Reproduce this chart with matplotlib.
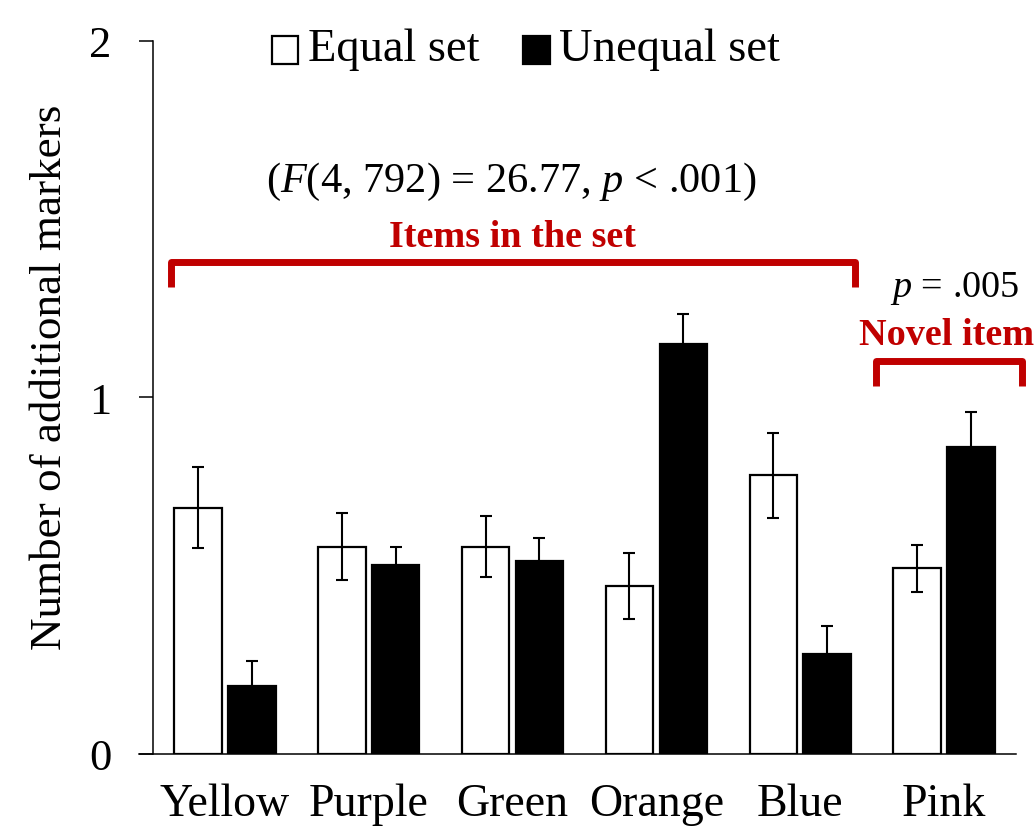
import numpy as np
import matplotlib
matplotlib.use("Agg")
from matplotlib import pyplot as plt
from matplotlib.patches import Rectangle
from matplotlib.legend_handler import HandlerPatch

plt.rcParams['font.family'] = ['Liberation Serif', 'DejaVu Serif']
plt.rcParams['mathtext.fontset'] = 'custom'
plt.rcParams['mathtext.rm'] = 'Liberation Serif'
plt.rcParams['mathtext.it'] = 'Liberation Serif:italic'

# Data
categories = ['Yellow', 'Purple', 'Green', 'Orange', 'Blue', 'Pink']
equal_mean = [0.69, 0.58, 0.58, 0.47, 0.78, 0.52]
equal_err = [0.113, 0.094, 0.085, 0.092, 0.118, 0.066]
unequal_mean = [0.19, 0.53, 0.54, 1.15, 0.28, 0.86]
unequal_err = [0.070, 0.050, 0.064, 0.084, 0.077, 0.099]
y_ticks = [0, 1, 2]

RED = '#C00000'

fig = plt.figure(figsize=(10.34, 8.28), dpi=100)
ax = fig.add_axes([139 / 1034, 1 - 754.5 / 828, (1016 - 139) / 1034, (754.5 - 41.6) / 828])

x = np.arange(len(categories))
w = 0.33
off = 0.187

bars_eq = ax.bar(x - off, equal_mean, w, color='white', edgecolor='black',
                 linewidth=1.6, zorder=2)
bars_un = ax.bar(x + off, unequal_mean, w, color='black', edgecolor='black',
                 linewidth=1.6, zorder=2)
ax.errorbar(x - off, equal_mean, yerr=equal_err, fmt='none', ecolor='black',
            elinewidth=1.5, capsize=4.5, capthick=1.5, zorder=3)
ax.errorbar(x + off, unequal_mean, yerr=unequal_err, fmt='none', ecolor='black',
            elinewidth=1.5, capsize=4.5, capthick=1.5, zorder=3)

# axes styling
ax.set_xlim(-0.597, 5.5)
ax.set_ylim(0, 2)
ax.spines['top'].set_visible(False)
ax.spines['right'].set_visible(False)
ax.spines['left'].set_position(('data', -0.5))
ax.spines['left'].set_linewidth(1.1)
ax.spines['bottom'].set_linewidth(1.1)
ax.set_yticks(y_ticks)
ax.set_yticklabels([str(t) for t in y_ticks])
ax.tick_params(axis='y', direction='out', length=10, width=1.1, pad=20, labelsize=32)
ax.set_xticks(x)
ax.set_xticklabels(categories)
ax.tick_params(axis='x', length=0, pad=21, labelsize=33)

ax.set_ylabel('Number of additional markers', fontsize=32.5, va='center')
ax.yaxis.set_label_coords(-0.101, 0.5295)


# legend squares sit low, on the text baseline
def low_square(legend, orig_handle, xdescent, ydescent, width, height, fontsize):
    return Rectangle((-xdescent, -ydescent - 0.13 * fontsize), width, height)


leg = ax.legend([bars_eq.patches[0], bars_un.patches[0]], ['Equal set', 'Unequal set'],
                loc='center', bbox_to_anchor=(526 / 1034, 1 - 50 / 828),
                bbox_transform=fig.transFigure, ncol=2, frameon=False, fontsize=33.5,
                handlelength=0.57, handleheight=0.57, handletextpad=0.2,
                columnspacing=0.95, borderpad=0, borderaxespad=0,
                handler_map={Rectangle: HandlerPatch(patch_func=low_square)})

# statistics text
ax.text(1.993, 1.578, r'($\mathit{F}$(4, 792) = 26.77, $\mathit{p}$ < .001)',
        ha='center', va='baseline', fontsize=30.5)
ax.text(2.0, 1.4236, 'Items in the set', ha='center', va='baseline', fontsize=27.5,
        fontweight='bold', color=RED)
ax.text(5.073, 1.283, r'$\mathit{p}$ = .005', ha='center', va='baseline', fontsize=27.5,
        clip_on=False)
ax.text(4.41, 1.149, 'Novel item', ha='left', va='baseline', fontsize=27.5,
        fontweight='bold', color=RED, clip_on=False)


# brackets
def bracket(x0, x1, ytop, ybot):
    ax.plot([x0, x0, x1, x1], [ybot, ytop, ytop, ybot], color=RED, lw=5,
            solid_joinstyle='round', solid_capstyle='butt', clip_on=False, zorder=4)


bracket(-0.372, 4.382, 1.379, 1.309)
bracket(4.524, 5.542, 1.101, 1.031)

plt.savefig('out.png', dpi=100)
